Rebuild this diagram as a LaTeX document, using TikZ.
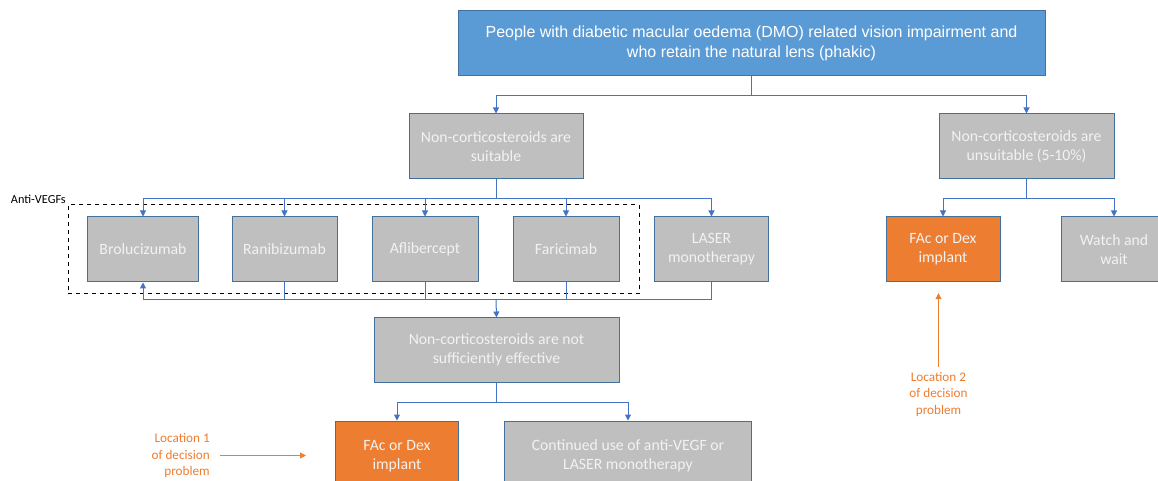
\documentclass[tikz,border=0pt]{standalone}
\usepackage{fontspec}
\setmainfont{Carlito}
\newfontfamily\arialfont{Liberation Sans}
\usetikzlibrary{arrows.meta}
\definecolor{dmoblue}{RGB}{91, 155, 213}
\definecolor{dmoedge}{RGB}{65, 113, 156}
\definecolor{dmogrey}{RGB}{191, 191, 191}
\definecolor{dmolink}{RGB}{68, 114, 196}
\definecolor{dmoorange}{RGB}{237, 125, 49}
\definecolor{dmotext}{RGB}{242, 242, 242}

\begin{document}
\begin{tikzpicture}[x=0.75pt, y=-0.75pt,
    box/.style={draw=dmoedge, line width=0.75pt, fill=dmogrey, text=dmotext, align=center, inner sep=2pt, minimum height=48.75pt, font=\fontsize{11.8}{14.3}\selectfont},
    implant/.style={box, fill=dmoorange},
    link/.style={draw=dmolink, line width=0.75pt, -{Triangle[length=4.5pt, width=4.5pt]}},
    plain/.style={draw=dmolink, line width=0.75pt},
    locnote/.style={text=dmoorange, inner sep=0pt, font=\fontsize{9.9}{12.3}\selectfont},
    locarrow/.style={draw=dmoorange, line width=0.75pt, -{Triangle[length=4.5pt, width=4.5pt]}}]
    \useasboundingbox (0,0) rectangle (1158,481);
    \clip (0,0) rectangle (1158,481);

    % top of the tree
    \node[box, fill=dmoblue, text=white, minimum width=440.25pt, font=\arialfont\fontsize{12}{15}\selectfont] (people) at (751.5,43.5) {People with diabetic macular oedema (DMO) related vision impairment and\\who retain the natural lens (phakic)};
    \node[box, minimum width=130.5pt] (suit) at (496,146.5) {Non-corticosteroids are\\suitable};
    \node[box, minimum width=131.25pt] (unsuit) at (1026.5,146.5) {Non-corticosteroids are\\unsuitable (5-10\%)};

    % anti-VEGF group
    \node[draw, dashed, line width=0.75pt, minimum width=428.25pt, minimum height=66.75pt] (antigroup) at (353.5,249.5) {};
    \node[anchor=east, inner sep=0pt, font=\fontsize{9.2}{11}\selectfont] (antilabel) at (66,199) {Anti-VEGFs};
    \node[box, minimum width=83.25pt] (brolu) at (143,249.5) {Brolucizumab};
    \node[box, minimum width=78.75pt] (rani) at (284.5,249.5) {Ranibizumab};
    \node[box, minimum width=79.5pt] (afli) at (425,249.5) {Aflibercept};
    \node[box, minimum width=79.5pt] (fari) at (566,249.5) {Faricimab};
    \node[box, minimum width=85.5pt] (laser) at (711.5,249.5) {LASER\\monotherapy};

    \node[box, minimum width=183.75pt, minimum height=48pt] (noteff) at (496.5,350) {Non-corticosteroids are not\\sufficiently effective};
    \node[implant, minimum width=92.25pt, minimum height=52.5pt] (facleft) at (397,456) {FAc or Dex\\implant};
    \node[box, minimum width=185.25pt, minimum height=52.5pt] (continued) at (628,456) {Continued use of anti-VEGF or\\LASER monotherapy};

    % unsuitable branch
    \node[implant, minimum width=85.5pt] (facright) at (943,249.5) {FAc or Dex\\implant};
    \node[box, minimum width=79.5pt] (watch) at (1114,249.5) {Watch and\\wait};

    % decision problem notes
    \node[locnote, anchor=east, align=right] (loc1) at (210,455.5) {Location 1\\of decision\\problem};
    \coordinate (loc1tip) at (306,455.5);
    \node[locnote, anchor=north, align=center] (loc2) at (938.5,372) {Location 2\\of decision\\problem};

    % connectors
    \draw[link] (people.south) -- ++(0,19) -| (suit.north);
    \draw[link] (people.south) -- ++(0,19) -| (unsuit.north);
    \foreach \drug in {brolu, rani, afli, fari, laser}
        \draw[link] (suit.south) -- ++(0,19) -| (\drug.north);
    \draw[link] (laser.south) -- ++(0,17) -| (brolu.south);
    \foreach \drug in {rani, afli, fari}
        \draw[plain] (\drug.south) -- ++(0,17);
    \coordinate (merge) at (496,299);
    \draw[link] (merge) -- (noteff.north);
    \draw[link] (noteff.south) -- ++(0,20) -| (facleft.north);
    \draw[link] (noteff.south) -- ++(0,20) -| (continued.north);
    \draw[link] (unsuit.south) -- ++(0,19) -| (facright.north);
    \draw[link] (unsuit.south) -- ++(0,19) -| (watch.north);
    \draw[locarrow, shorten <=7.5pt] (loc1.east) -- (loc1tip);
    \draw[locarrow, shorten <=3.5pt, shorten >=8pt] (loc2.north) -- (loc2.north |- facright.south);
\end{tikzpicture}
\end{document}
